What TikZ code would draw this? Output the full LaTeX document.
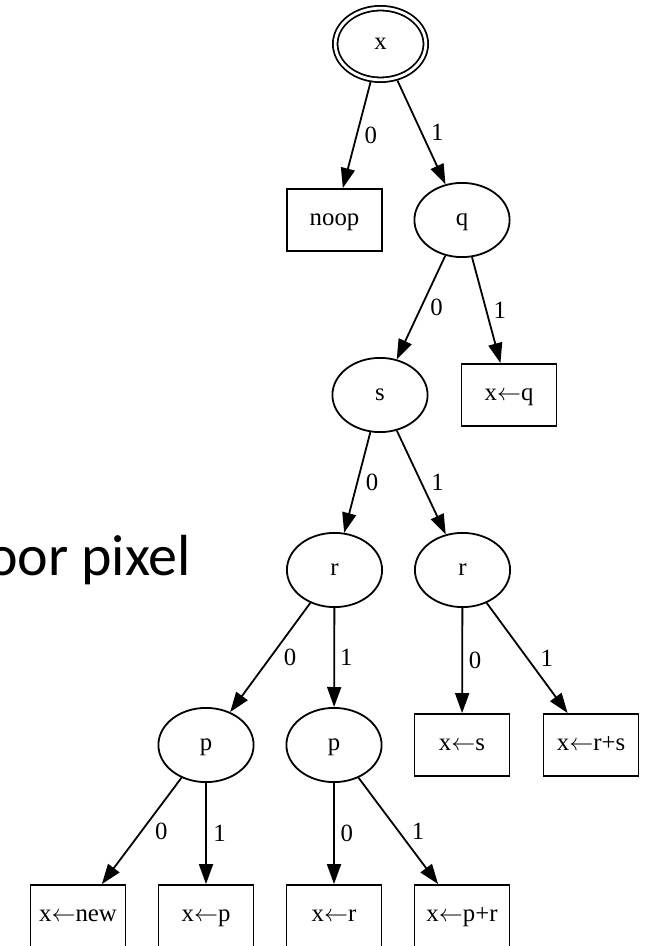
\documentclass[tikz,border=0pt]{standalone}
\usepackage{fontspec}
\setmainfont{Liberation Serif}
\newfontfamily\slidefont{Carlito}
\usetikzlibrary{arrows.meta, shapes.geometric}

% assignment arrow inside the action boxes
\newcommand{\asg}{$\leftarrow$}

\tikzset{
  var/.style={draw, ellipse, line width=0.9pt, minimum width=47.6pt, minimum height=37.1pt,
    inner sep=0pt, text height=0.75em, text depth=0.2em},
  leaf/.style={draw, rectangle, line width=0.9pt, minimum width=47.5pt, minimum height=31pt,
    inner sep=0pt, text height=0.75em, text depth=0.2em},
  branch/.style={-{Triangle[length=10pt,width=7pt]}, line width=0.9pt},
  bit/.style={midway, inner sep=0pt},
}

\begin{document}
\begin{tikzpicture}[x=0.5pt, y=-0.5pt, font=\fontsize{12.4}{15}\selectfont]
  \clip (0,0) rectangle (646,946);
  % slide text behind the tree
  \node[anchor=base east, inner sep=0pt, font=\slidefont\fontsize{29}{35}\selectfont]
    (caption) at (191.5,575) {oor pixel};
  % root
  \node[var, double, double distance=1.4pt, minimum width=45.3pt, minimum height=35.8pt,
    outer sep=1.6pt] (x) at (380.5,44) {x};
  % inner tests
  \node[var] (q)  at (462,220) {q};
  \node[var] (s)  at (380,395) {s};
  \node[var] (rl) at (334.5,570) {r};
  \node[var] (rr) at (462.5,570) {r};
  \node[var] (pl) at (206,745) {p};
  \node[var] (pr) at (334,745) {p};
  % actions
  \node[leaf] (noop) at (334.5,220) {noop};
  \node[leaf] (xq)   at (509,395) {x\asg q};
  \node[leaf] (xs)   at (462,745) {x\asg s};
  \node[leaf] (xrs)  at (591,745) {x\asg r+s};
  \node[leaf] (xnew) at (78,916) {x\asg new};
  \node[leaf] (xp)   at (206,916) {x\asg p};
  \node[leaf] (xr)   at (334,916) {x\asg r};
  \node[leaf] (xpr)  at (462,916) {x\asg p+r};
  % branches
  \draw[branch] (x) -- (noop) node[bit, right=3.5pt] {0};
  \draw[branch] (x) -- (q) node[bit, right=4.4pt] {1};
  \draw[branch] (q) -- (s) node[bit, right=4.2pt] {0};
  \draw[branch] (q) -- (xq) node[bit, right=3.2pt] {1};
  \draw[branch] (s) -- (rl) node[bit, right=3.8pt] {0};
  \draw[branch] (s) -- (rr) node[bit, right=4.6pt] {1};
  \draw[branch] (rl) -- (pl) node[bit, right=6.3pt] {0};
  \draw[branch] (rl) -- (pr) node[bit, right=2.5pt] {1};
  \draw[branch] (rr) -- (xs) node[bit, right=2.8pt] {0};
  \draw[branch] (rr) -- (xrs) node[bit, right=6.3pt] {1};
  \draw[branch] (pl) -- (xnew) node[bit, right=6.3pt] {0};
  \draw[branch] (pl) -- (xp) node[bit, right=3.2pt] {1};
  \draw[branch] (pr) -- (xr) node[bit, right=2.8pt] {0};
  \draw[branch] (pr) -- (xpr) node[bit, right=6.3pt] {1};
\end{tikzpicture}
\end{document}
